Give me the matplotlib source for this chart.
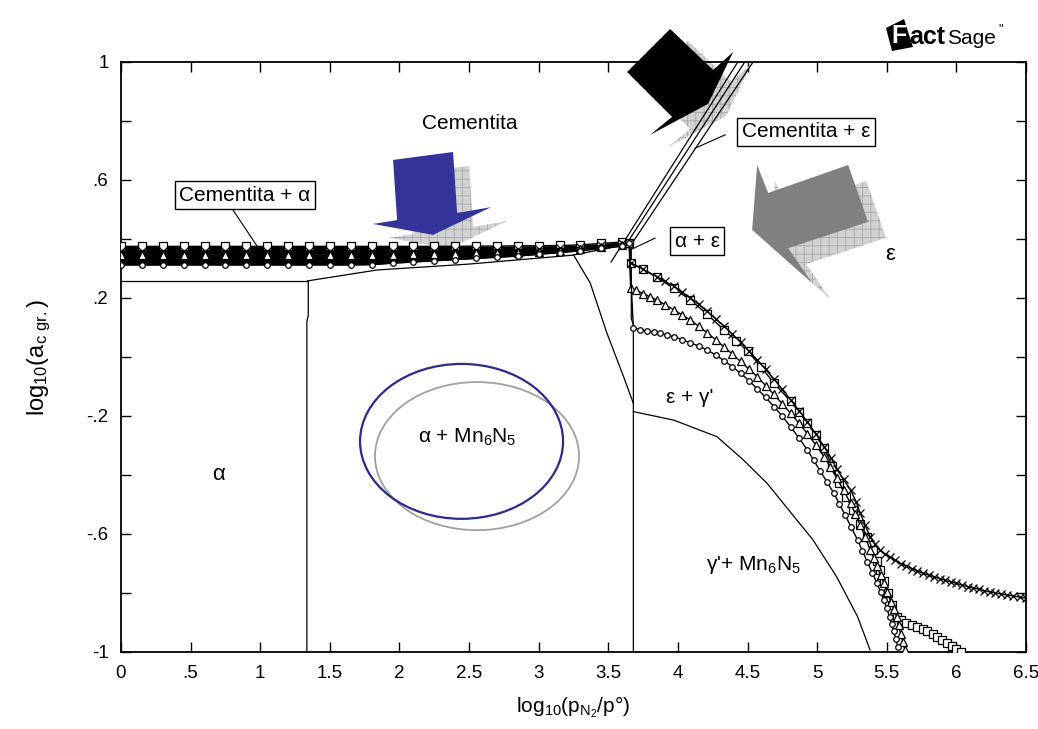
import matplotlib
matplotlib.use("Agg")
import matplotlib.pyplot as plt
from matplotlib.patches import Polygon, Ellipse
from matplotlib.ticker import MultipleLocator, FuncFormatter

plt.rcParams['font.family'] = ['Liberation Sans', 'DejaVu Sans']
plt.rcParams['mathtext.default'] = 'regular'
plt.rcParams['hatch.linewidth'] = 0.6

# band along the Cementita boundary (x = log10 pN2)
band_x = [0, .15, .3, .45, .6, .75, .9, 1.05, 1.2, 1.35, 1.5, 1.65, 1.8, 1.95,
          2.1, 2.25, 2.4, 2.55, 2.7, 2.85, 3.0, 3.15, 3.3, 3.45, 3.6]
sq_band = [.375, .375, .375, .375, .375, .375, .375, .375, .375, .375, .375, .375, .375,
           .375, .375, .375, .375, .376, .376, .377, .377, .378, .38, .385, .39]
x_band = [.36, .36, .36, .36, .36, .36, .36, .36, .36, .36, .36, .36, .36,
          .36, .36, .361, .362, .363, .364, .365, .366, .368, .372, .378, .385]
tri_band = [.345, .345, .345, .345, .345, .345, .345, .345, .345, .345, .345, .345, .346,
            .347, .348, .349, .35, .351, .352, .354, .356, .36, .366, .372, .38]
ci_band = [.312, .312, .312, .312, .312, .312, .312, .312, .312, .312, .312, .312, .313,
           .318, .322, .326, .33, .334, .338, .342, .348, .354, .36, .368, .376]

# descending branches after the triple point
sq_x = [3.66, 3.75, 3.85, 3.97, 4.09, 4.21, 4.33, 4.42, 4.5, 4.6, 4.69, 4.81, 4.87,
        4.93, 4.99, 5.05, 5.11, 5.16, 5.21, 5.26, 5.31, 5.36, 5.40, 5.43, 5.45, 5.48,
        5.51, 5.54, 5.57, 5.6, 5.64, 5.68, 5.72, 5.76, 5.79, 5.83, 5.86, 5.90, 5.93,
        5.97, 6.0, 6.03]
sq_y = [.32, .297, .27, .233, .193, .145, .092, .055, .02, -.035, -.089, -.15, -.187,
        -.225, -.266, -.31, -.37, -.428, -.475, -.52, -.565, -.609, -.654, -.69, -.722,
        -.76, -.801, -.84, -.88, -.892, -.9, -.907, -.914, -.922, -.93, -.94, -.948,
        -.96, -.97, -.98, -.99, -1.0]
xx_x = [3.66, 3.75, 3.85, 3.91, 3.97, 4.03, 4.09, 4.15, 4.21, 4.27, 4.33, 4.39, 4.45,
        4.51, 4.57, 4.63, 4.69, 4.75, 4.81, 4.87, 4.93, 4.99, 5.05, 5.10, 5.14, 5.19,
        5.24, 5.28, 5.31, 5.345, 5.38, 5.415, 5.45, 5.485, 5.52, 5.56, 5.6, 5.64, 5.68,
        5.72, 5.76, 5.80, 5.84, 5.88, 5.92, 5.96, 6.0, 6.04, 6.08, 6.12, 6.16, 6.2,
        6.24, 6.28, 6.32, 6.365, 6.41, 6.455, 6.5]
xx_y = [.32, .297, .272, .256, .24, .22, .2, .178, .155, .13, .105, .078, .05, .02,
        -.01, -.042, -.075, -.11, -.146, -.182, -.22, -.26, -.304, -.342, -.38, -.415,
        -.451, -.49, -.53, -.57, -.609, -.635, -.655, -.667, -.677, -.689, -.7, -.709,
        -.717, -.725, -.733, -.739, -.745, -.751, -.757, -.762, -.767, -.773, -.778,
        -.783, -.787, -.792, -.796, -.8, -.803, -.807, -.81, -.814, -.818]
tri_x = [3.66, 3.70, 3.75, 3.80, 3.85, 3.91, 3.97, 4.03, 4.09, 4.15, 4.21, 4.27, 4.33,
         4.39, 4.45, 4.51, 4.57, 4.63, 4.69, 4.75, 4.81, 4.87, 4.93, 4.99, 5.05, 5.095,
         5.14, 5.19, 5.24, 5.275, 5.31, 5.345, 5.38, 5.405, 5.43, 5.455, 5.48, 5.505,
         5.53, 5.55, 5.57, 5.585, 5.60, 5.615, 5.63]
tri_y = [.235, .226, .215, .204, .193, .177, .16, .143, .125, .104, .082, .059, .035,
         .01, -.015, -.041, -.067, -.097, -.127, -.159, -.191, -.225, -.26, -.298, -.338,
         -.373, -.41, -.452, -.496, -.533, -.57, -.61, -.654, -.68, -.71, -.738, -.767,
         -.798, -.83, -.855, -.88, -.91, -.94, -.966, -.993]
ci_x = [3.68, 3.73, 3.78, 3.83, 3.87, 3.92, 3.97, 4.03, 4.09, 4.15, 4.21, 4.27, 4.33,
        4.39, 4.45, 4.51, 4.57, 4.63, 4.69, 4.75, 4.81, 4.87, 4.93, 4.975, 5.02, 5.07,
        5.12, 5.16, 5.2, 5.245, 5.29, 5.325, 5.36, 5.395, 5.43, 5.455, 5.48, 5.50, 5.52,
        5.535, 5.55, 5.565, 5.58]
ci_y = [.097, .093, .088, .084, .08, .075, .069, .059, .048, .037, .024, .007, -.012,
        -.033, -.055, -.08, -.108, -.137, -.168, -.201, -.237, -.275, -.315, -.35, -.385,
        -.423, -.462, -.498, -.535, -.577, -.62, -.657, -.695, -.731, -.767, -.796, -.825,
        -.852, -.88, -.905, -.93, -.956, -.982]

# phase boundaries (plain lines)
b1_x, b1_y = [0, 1.34], [.258, .258]
b2_x, b2_y = [1.345, 1.345, 1.335, 1.335], [.258, .14, .12, -1.0]
b3_x, b3_y = [1.34, 1.84, 2.5, 3.24, 3.6], [.258, .295, .315, .345, .378]
b4_x, b4_y = [3.25, 3.37, 3.49, 3.61, 3.68], [.346, .251, .081, -.067, -.157]
b5_x, b5_y = [3.665, 3.665, 3.68, 3.68], [.385, .13, .11, -1.0]
b6_x = [3.68, 3.97, 4.28, 4.47, 4.64, 4.97, 5.14, 5.29, 5.38]
b6_y = [-.185, -.214, -.27, -.349, -.428, -.62, -.745, -.88, -.993]
b7_x, b7_y = [3.52, 4.43], [.322, 1.0]
b8_x, b8_y = [3.64, 4.48], [.39, 1.0]
b9_x, b9_y = [3.67, 4.54], [.385, 1.0]

xticks = [0, .5, 1, 1.5, 2, 2.5, 3, 3.5, 4, 4.5, 5, 5.5, 6, 6.5]

fig = plt.figure(figsize=(10.38, 7.29), dpi=100)
ax = fig.add_axes([121 / 1038, 1 - 652 / 729, 905 / 1038, 590 / 729])

lw = 0.9
for bx, by in [(b1_x, b1_y), (b2_x, b2_y), (b3_x, b3_y), (b4_x, b4_y), (b5_x, b5_y),
               (b6_x, b6_y), (b7_x, b7_y), (b8_x, b8_y), (b9_x, b9_y)]:
    ax.plot(bx, by, color='black', lw=lw, zorder=3)

# thick black band
ax.fill_between(band_x, ci_band, sq_band, color='black', lw=0, zorder=3)

mk = dict(color='black', lw=1.0, mfc='white', mec='black', mew=0.9, zorder=4)
ax.plot(band_x + [3.65] + sq_x, sq_band + [.385] + sq_y, marker='s', ms=6, **mk)
ax.plot(band_x + [3.65] + xx_x, x_band + [.385] + xx_y, marker='x', ms=6,
        color='black', lw=1.0, mew=0.9, zorder=4)
ax.plot(band_x + [3.65] + tri_x, tri_band + [.385] + tri_y, marker='^', ms=6, **mk)
ax.plot(band_x + [3.65] + ci_x, ci_band + [.385] + ci_y, marker='o', ms=4, **mk)

# decorative arrows with hatched shadows
blue_arrow = [(1.954, .668), (2.385, .695), (2.414, .488), (2.658, .508),
              (2.241, .414), (1.810, .451), (1.983, .464)]
black_arrow = [(3.944, 1.112), (4.253, .973), (4.397, 1.034), (4.217, .858),
               (3.800, .753), (3.958, .814), (3.635, .966)]
gray_arrow = [(4.569, .651), (4.648, .556), (5.223, .651), (5.366, .458),
              (4.792, .369), (4.964, .251), (4.533, .431)]
for pts, col, dx, dy in [(blue_arrow, '#333399', .115, -.047),
                         (black_arrow, 'black', .129, -.041),
                         (gray_arrow, '#808080', .129, -.054)]:
    sh = [(px + dx, py + dy) for px, py in pts]
    ax.add_patch(Polygon(sh, closed=True, facecolor='#d2d2d2', edgecolor='#a8a8a8',
                         hatch='++', lw=0, zorder=2, clip_on=False))
    ax.add_patch(Polygon(pts, closed=True, facecolor=col, edgecolor='none',
                         zorder=5, clip_on=False))

# ellipses
ax.add_patch(Ellipse((2.557, -.336), 1.466, .502, fill=False, edgecolor='#a0a0a0',
                     lw=1.3, zorder=3))
ax.add_patch(Ellipse((2.446, -.286), 1.458, .525, fill=False, edgecolor='#2b2b8c',
                     lw=1.6, zorder=3))

# labels
fs = 15
box = dict(boxstyle='square,pad=0.22', facecolor='white', edgecolor='black', lw=1.0)
ax.text(2.507, .793, 'Cementita', fontsize=fs, ha='center', va='center', zorder=6)
ax.plot([.805, .977], [.498, .376], color='black', lw=0.8, zorder=5)
ax.text(.891, .549, 'Cementita + α', fontsize=fs, ha='center', va='center', bbox=box, zorder=6)
ax.plot([4.339, 4.124], [.753, .708], color='black', lw=0.8, zorder=5)
ax.text(4.921, .763, 'Cementita + ε', fontsize=fs, ha='center', va='center', bbox=box, zorder=6)
ax.plot([3.836, 3.657], [.403, .363], color='black', lw=0.8, zorder=5)
ax.text(4.138, .393, 'α + ε', fontsize=fs, ha='center', va='center', bbox=box, zorder=6)
ax.text(5.524, .346, 'ε', fontsize=fs + 1, ha='center', va='center', zorder=6)
ax.text(4.088, -.136, "ε + γ'", fontsize=fs, ha='center', va='center', zorder=6)
ax.text(4.54, -.705, "γ'+ Mn$_6$N$_5$", fontsize=fs, ha='center', va='center', zorder=6)
ax.text(2.486, -.271, 'α + Mn$_6$N$_5$', fontsize=fs, ha='center', va='center', zorder=6)
ax.text(.697, -.400, 'α', fontsize=fs + 1, ha='center', va='center', zorder=6)

ax.set_xlim(0, 6.5)
ax.set_ylim(-1, 1)
ax.set_xticks(xticks)
ax.set_xticklabels(['0' if t == 0 else ('%g' % t).replace('0.', '.') for t in xticks])
ax.yaxis.set_major_locator(MultipleLocator(0.2))


def ylab(v, pos):
    v = round(v, 1)
    if abs(round(v / 0.2)) % 2 == 0 and abs(v) != 1:
        return ''
    s = '%g' % v
    return s.replace('0.', '.')


ax.yaxis.set_major_formatter(FuncFormatter(ylab))
ax.tick_params(direction='in', length=7, width=1.0, top=True, right=True,
               labelsize=13.5, pad=9)
for sp in ax.spines.values():
    sp.set_linewidth(1.3)

ax.set_xlabel('log$_{10}$(p$_{N_2}$/p°)', fontsize=15, labelpad=9)
ax.set_ylabel('log$_{10}$(a$_{c\\ gr.}$)', fontsize=17, labelpad=24)

# FactSage logo
logo = [(886 / 1038, 1 - 28 / 729), (904 / 1038, 1 - 19 / 729),
        (913 / 1038, 1 - 47 / 729), (892 / 1038, 1 - 51 / 729)]
fig.patches.append(Polygon(logo, closed=True, facecolor='black',
                           transform=fig.transFigure, figure=fig))
fig.text(899 / 1038, 1 - 36 / 729, 'F', color='white', fontsize=18, weight='bold',
         ha='center', va='center')
fig.text(909 / 1038, 1 - 37 / 729, 'act', color='black', fontsize=18, weight='bold',
         ha='left', va='center')
fig.text(947 / 1038, 1 - 38 / 729, 'Sage', color='black', fontsize=15,
         ha='left', va='center')
fig.text(998 / 1038, 1 - 29 / 729, '"', color='black', fontsize=9, ha='left', va='center')

fig.savefig('out.png', dpi=100, facecolor='white')
